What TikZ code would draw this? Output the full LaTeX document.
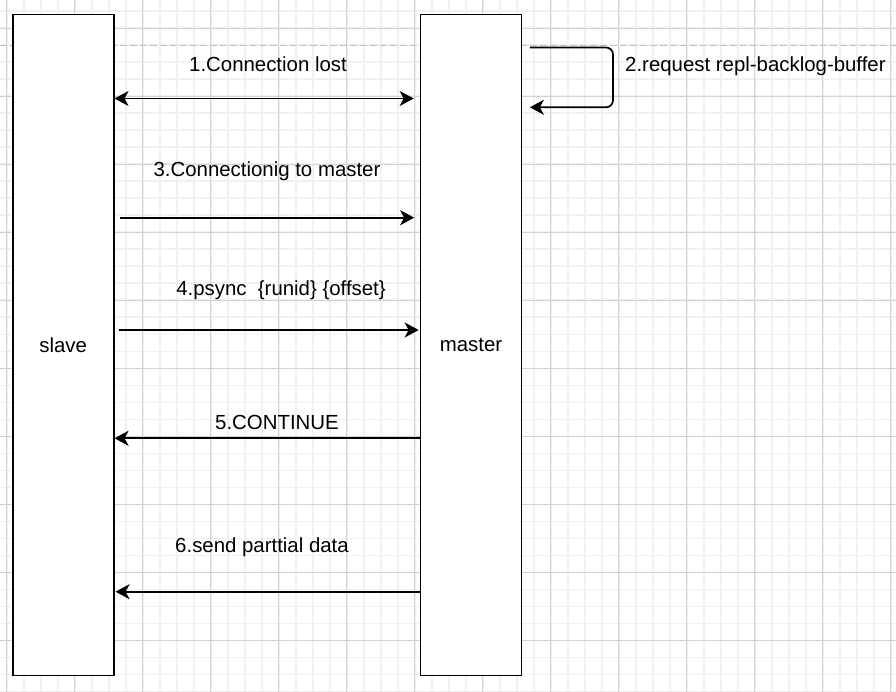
\documentclass[tikz,border=0pt]{standalone}
\usepackage{fontspec}
\setmainfont{Liberation Sans}
\usetikzlibrary{arrows.meta}
\definecolor{minorgrid}{HTML}{F1F1F1}
\definecolor{majorgrid}{HTML}{D2D2D2}
\definecolor{pagebreak}{HTML}{C0C0C0}
\tikzset{
  lifeline/.style={draw=black, line width=1.7pt, fill=white, minimum width=101pt, minimum height=661pt, inner sep=0pt, font=\fontsize{20.4}{24}\selectfont},
  msg/.style={line width=1.7pt, -{Stealth[length=14pt, width=15pt, inset=4pt]}},
  msgboth/.style={line width=1.7pt, {Stealth[length=14pt, width=15pt, inset=4pt]}-{Stealth[length=14pt, width=15pt, inset=4pt]}},
  lbl/.style={anchor=base, inner sep=0pt, font=\fontsize{20.4}{24}\selectfont},
}
\begin{document}
\begin{tikzpicture}[x=1pt, y=-1pt]
\useasboundingbox (0,0) rectangle (896,692);
\fill[white] (0,0) rectangle (896,692);
% grid
\begin{scope}
\clip (0,0) rectangle (896,692);
\foreach \k in {0,...,52} { \draw[minorgrid, line width=1.6pt] ({6.7+17*\k},0) -- ({6.7+17*\k},692); }
\foreach \k in {0,...,40} { \draw[minorgrid, line width=1.6pt] (0,{11.3+17*\k}) -- (896,{11.3+17*\k}); }
\foreach \k in {0,...,13} { \draw[majorgrid, line width=1pt] ({6.7+68*\k},0) -- ({6.7+68*\k},692); }
\foreach \k in {0,...,9} { \draw[majorgrid, line width=1pt] (0,{28.3+68*\k}) -- (896,{28.3+68*\k}); }
\end{scope}
% page break line
\draw[pagebreak, line width=1.4pt, dash pattern=on 6.5pt off 3.5pt] (0,45.5) -- (896,45.5);
% lifelines
\node[lifeline] (slave) at (63.2,345) {slave};
\node[lifeline] (master) at (471,345) {master};
% messages
\draw[msgboth, shorten >=6pt] (slave.east |- 0,98.5) -- (master.west |- 0,98.5);
\node[lbl] (l1) at (268,71.7) {1.Connection lost};
\draw[msg, rounded corners=7pt] ([xshift=7.5pt]master.east |- 0,47.5) -- (613,47.5) -- (613,107.3) -- ([xshift=7.5pt]master.east |- 0,107.3);
\node[lbl, anchor=base west] (l2) at (625,71.7) {2.request repl-backlog-buffer};
\draw[msg, shorten <=5.5pt, shorten >=5.5pt] (slave.east |- 0,217.7) -- (master.west |- 0,217.7);
\node[lbl] (l3) at (267,176.7) {3.Connectionig to master};
\draw[msg, shorten <=4.8pt, shorten >=1pt] (slave.east |- 0,330) -- (master.west |- 0,330);
\node[lbl] (l4) at (281,296) {4.psync\ \ \{runid\} \{offset\}};
\draw[msg] (master.west |- 0,438.3) -- (slave.east |- 0,438.3);
\node[lbl] (l5) at (277,429) {5.CONTINUE};
\draw[msg, shorten >=1pt] (master.west |- 0,591.7) -- (slave.east |- 0,591.7);
\node[lbl] (l6) at (262,552.7) {6.send parttial data};
\end{tikzpicture}
\end{document}
